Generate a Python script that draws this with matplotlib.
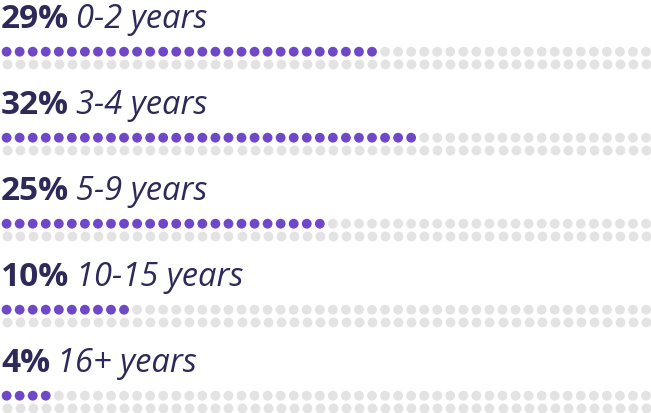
import matplotlib
matplotlib.use("Agg")
import matplotlib.pyplot as plt
import numpy as np

labels = ["0-2 years", "3-4 years", "5-9 years", "10-15 years", "16+ years"]
percents = [29, 32, 25, 10, 4]

PURPLE = "#6f47c9"
GRAY = "#e3e3e3"
TEXT = "#2d2958"

W, H = 651, 414
fig = plt.figure(figsize=(W / 100, H / 100), dpi=100)
ax = fig.add_axes([0, 0, 1, 1])
ax.set_xlim(0, W)
ax.set_ylim(H, 0)
ax.axis("off")

n_cols = 50
x0, dx = 6.6, 13.05
row_gap = 12.6
group_gap = 86.0
first_row_y = 52.7
xs = x0 + dx * np.arange(n_cols)

fig.canvas.draw()
renderer = fig.canvas.get_renderer()
inv = ax.transData.inverted()

for i, (lab, p) in enumerate(zip(labels, percents)):
    y1 = first_row_y + i * group_gap
    y2 = y1 + row_gap
    colors = [PURPLE if k < p else GRAY for k in range(n_cols)]
    ax.scatter(xs, np.full(n_cols, y2), s=50, c=GRAY, linewidths=0, zorder=1)
    ax.scatter(xs, np.full(n_cols, y1), s=50, c=colors, linewidths=0, zorder=2)
    base = y1 - 24.5
    t = ax.text(1, base, f"{p}%", fontsize=24, fontweight="bold", color=TEXT,
                family="Open Sans", va="baseline", ha="left")
    bb = t.get_window_extent(renderer=renderer)
    x_end = inv.transform((bb.x1, 0))[0]
    ax.text(x_end + 7, base, lab, fontsize=23.5, fontstyle="italic", color=TEXT,
            family="Open Sans", va="baseline", ha="left")

fig.savefig("out.png", dpi=100)
